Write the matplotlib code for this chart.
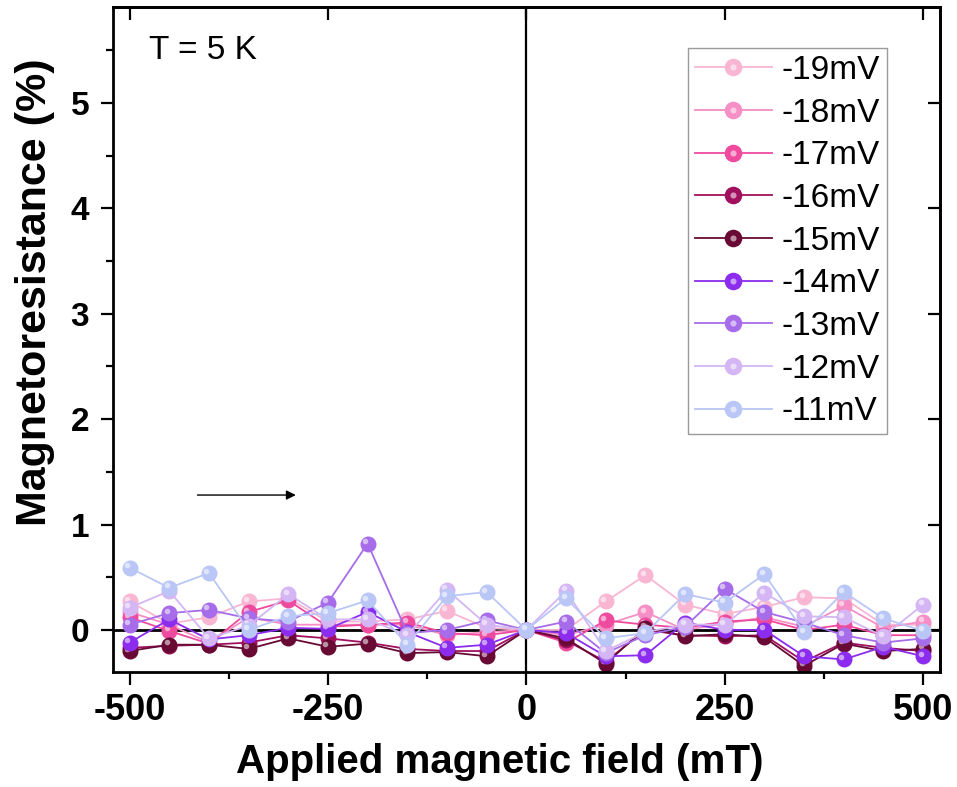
import matplotlib
matplotlib.use("Agg")
import matplotlib.pyplot as plt
import matplotlib.transforms as mtransforms
from matplotlib.legend_handler import HandlerTuple
from matplotlib.ticker import MultipleLocator

field = [-500, -450, -400, -350, -300, -250, -200, -150, -100, -50, 0,
         50, 100, 150, 200, 250, 300, 350, 400, 450, 500]

labels = ["-19mV", "-18mV", "-17mV", "-16mV", "-15mV", "-14mV", "-13mV", "-12mV", "-11mV"]

mr_19 = [0.27, 0.06, 0.12, 0.27, 0.30, 0.08, 0.08, 0.10, 0.18, 0.02, 0,
         0.00, 0.27, 0.52, 0.24, 0.15, 0.22, 0.31, 0.30, 0.05, 0.05]
mr_18 = [0.17, 0.05, -0.12, 0.12, 0.05, 0.05, 0.05, 0.05, -0.05, -0.02, 0,
         -0.05, 0.05, 0.17, 0.00, 0.06, 0.12, 0.03, 0.23, 0.02, 0.08]
mr_17 = [0.12, -0.01, -0.13, 0.17, 0.28, 0.03, 0.05, 0.07, -0.03, -0.05, 0,
         -0.12, 0.09, 0.05, 0.02, 0.08, 0.10, 0.00, 0.05, -0.05, -0.05]
mr_16 = [-0.17, -0.15, -0.14, -0.12, -0.05, -0.08, -0.12, -0.18, -0.20, -0.20, 0,
         -0.10, -0.30, 0.00, -0.05, -0.06, -0.05, -0.30, -0.12, -0.17, -0.20]
mr_15 = [-0.20, -0.14, -0.14, -0.18, -0.08, -0.16, -0.13, -0.22, -0.21, -0.25, 0,
         -0.08, -0.32, 0.02, -0.06, -0.04, -0.07, -0.34, -0.13, -0.20, -0.18]
mr_14 = [-0.12, 0.10, -0.09, -0.05, 0.02, 0.01, 0.17, -0.02, -0.17, -0.14, 0,
         -0.03, -0.25, -0.24, 0.07, 0.00, 0.00, -0.25, -0.28, -0.16, -0.25]
mr_13 = [0.05, 0.16, 0.19, 0.11, 0.08, 0.26, 0.82, -0.03, 0.00, 0.09, 0,
         0.08, -0.22, -0.05, 0.03, 0.39, 0.17, 0.07, -0.05, -0.12, -0.08]
mr_12 = [0.21, 0.37, -0.08, 0.04, 0.34, 0.10, 0.10, -0.05, 0.38, 0.05, 0,
         0.37, -0.20, -0.02, 0.05, 0.05, 0.35, 0.13, 0.12, -0.06, 0.24]
mr_11 = [0.59, 0.40, 0.54, 0.00, 0.13, 0.16, 0.28, -0.14, 0.32, 0.36, 0,
         0.30, -0.08, -0.03, 0.34, 0.26, 0.53, -0.02, 0.36, 0.11, -0.01]

colors = ["#F8B6D3", "#F58FC5", "#EF4B9E", "#A0105E", "#690A35",
          "#8B2CEE", "#A66CE9", "#D3B6F3", "#B9C6F6"]

plt.rcParams["font.family"] = ["Liberation Sans", "DejaVu Sans"]
plt.rcParams["axes.unicode_minus"] = False

fig = plt.figure(figsize=(9.57, 7.87), dpi=100)
ax = fig.add_axes([0.118, 0.146, 0.864, 0.845])

shine = mtransforms.offset_copy(ax.transData, fig=fig, x=-2.5, y=2.5, units="dots")

handles = []
series = [mr_19, mr_18, mr_17, mr_16, mr_15, mr_14, mr_13, mr_12, mr_11]
for values, color, label in zip(series, colors, labels):
    line, = ax.plot(field, values, "-o", color=color, lw=1.3, ms=11.5,
                    markeredgewidth=0, label=label)
    ax.plot(field, values, "o", color="white", alpha=0.55, ms=4,
            markeredgewidth=0, transform=shine)
    dot, = ax.plot([], [], "o", color="white", alpha=0.55, ms=4, markeredgewidth=0)
    handles.append((line, dot))

ax.axhline(0, color="black", lw=2, zorder=0)
ax.axvline(0, color="black", lw=1.6, zorder=0)

ax.set_xlim(-521, 521)
ax.set_ylim(-0.4, 5.91)

ax.xaxis.set_major_locator(MultipleLocator(250))
ax.xaxis.set_minor_locator(MultipleLocator(125))
ax.yaxis.set_major_locator(MultipleLocator(1))
ax.yaxis.set_minor_locator(MultipleLocator(0.5))

ax.tick_params(which="both", direction="out", width=1.6)
ax.tick_params(which="major", length=9)
ax.tick_params(which="minor", length=5)
ax.tick_params(axis="y", labelsize=24, pad=8)
ax.tick_params(axis="x", labelsize=26, pad=6)
for lbl in ax.get_yticklabels() + ax.get_xticklabels():
    lbl.set_fontweight("bold")

# mirrored ticks pointing inward on top and right
top = ax.secondary_xaxis("top")
top.set_xticks([-500, -250, 0, 250, 500])
top.tick_params(direction="in", length=9, width=1.6, labeltop=False)
right = ax.secondary_yaxis("right")
right.set_yticks([0, 1, 2, 3, 4, 5])
right.tick_params(direction="in", length=9, width=1.6, labelright=False)

for sp in list(ax.spines.values()) + [top.spines["top"], right.spines["right"]]:
    sp.set_linewidth(2)

ax.set_xlabel("Applied magnetic field (mT)", fontsize=29, fontweight="bold")
ax.set_ylabel("Magnetoresistance (%)", fontsize=31, fontweight="bold")
ax.xaxis.set_label_coords(0.468, -0.106)
ax.yaxis.set_label_coords(-0.07, 0.572)

ax.text(-475, 5.5, "T = 5 K", fontsize=24, va="center", ha="left")
ax.annotate("", xy=(-287, 1.28), xytext=(-418, 1.28),
            arrowprops=dict(arrowstyle="-|>", color="black", lw=1, mutation_scale=14))

ax.legend(handles, labels, handler_map={tuple: HandlerTuple(ndivide=1)},
          loc="upper right", bbox_to_anchor=(0.936, 0.938), borderaxespad=0,
          fontsize=24, labelspacing=0.35, handlelength=2.3, handletextpad=0.3,
          fancybox=False, edgecolor="#999999", framealpha=1, borderpad=0.2,
          markerscale=1.1)

fig.savefig("out.png", dpi=100)
